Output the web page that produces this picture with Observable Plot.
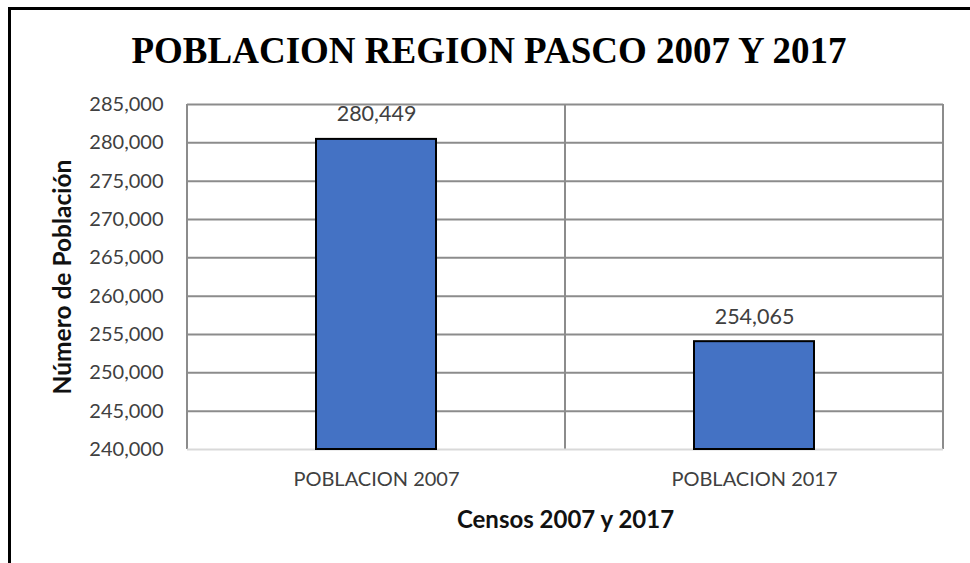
<!DOCTYPE html>
<html>
<head>
<meta charset="utf-8">
<script src="https://cdn.jsdelivr.net/npm/d3@7"></script>
<script src="https://cdn.jsdelivr.net/npm/@observablehq/plot@0.6"></script>
<style>
  html, body { margin: 0; padding: 0; background: #fff; }
  #wrap { position: relative; width: 970px; height: 563px; overflow: hidden; background: #fff; }
  #frame { position: absolute; left: 8px; top: 7px; width: 1000px; height: 620px; border: 3px solid #000; box-sizing: border-box; }
  #title { position: absolute; left: 0; top: 26px; width: 978px; text-align: center;
           font-family: "Liberation Serif", "Times New Roman", serif; font-weight: bold; font-size: 37px; color: #000; line-height: 50px; }
  #chart { position: absolute; left: 0; top: 80px; }
</style>
</head>
<body>
<div id="wrap">
  <div id="frame"></div>
  <div id="title">POBLACION REGION PASCO 2007 Y 2017</div>
  <div id="chart"></div>
</div>
<script>
const categories = ["POBLACION 2007", "POBLACION 2017"];
const values = [280449, 254065];
const yTicks = [240000, 245000, 250000, 255000, 260000, 265000, 270000, 275000, 280000, 285000];
const yMin = 240000;
const yMax = 285000;

const data = categories.map((c, i) => ({cat: c, value: values[i]}));
const fmt = d3.format(",");
const font = "Lato, 'Open Sans', sans-serif";

const plot = Plot.plot({
  width: 970,
  height: 483,
  marginTop: 24,
  marginBottom: 114,
  marginLeft: 187,
  marginRight: 27,
  style: {fontFamily: font, fontSize: "20px", color: "#404040", background: "transparent"},
  x: {domain: categories, paddingInner: 0.683, paddingOuter: 0.3415, label: null},
  y: {domain: [yMin, yMax], label: null},
  marks: [
    Plot.ruleY(yTicks.filter(t => t > yMin), {y: d => d, stroke: "#8c8c8c", strokeWidth: 2}),
    Plot.ruleY([yMin], {stroke: "#d9d9d9", strokeWidth: 2}),
    Plot.barY(data, {x: "cat", y1: yMin, y2: "value", fill: "#4472C4", stroke: "#000", strokeWidth: 2}),
    Plot.text(data, {x: "cat", y: "value", text: d => fmt(d.value), dy: -25, fontSize: 21.5, fill: "#404040"}),
    Plot.axisY({ticks: yTicks, tickFormat: fmt, tickSize: 0, tickPadding: 24, fontSize: 20, fill: "#404040",
      label: "Número de Población", labelAnchor: "center", labelOffset: 134, labelArrow: "none"}),
    Plot.axisX({tickSize: 0, tickPadding: 22, fontSize: 20, fill: "#404040",
      label: "Censos 2007 y 2017", labelAnchor: "center", labelOffset: 78, labelArrow: "none"})
  ]
});

// vertical band boundary lines, derived from the band scale
const xs = plot.scale("x");
const ys = plot.scale("y");
const gap = (xs.step - xs.bandwidth) / 2;
const bounds = xs.domain.map(d => xs.apply(d) - gap);
bounds.push(xs.apply(xs.domain[xs.domain.length - 1]) + xs.bandwidth + gap);
const svg = d3.select(plot);
const g = svg.insert("g", ":first-child");
g.selectAll("line").data(bounds).join("line")
  .attr("x1", d => d).attr("x2", d => d)
  .attr("y1", ys.apply(yMax)).attr("y2", ys.apply(yMin))
  .attr("stroke", "#8c8c8c").attr("stroke-width", 2);

// style axis labels
svg.selectAll("[aria-label='y-axis label'] text, [aria-label='x-axis label'] text")
  .attr("font-weight", "bold").attr("fill", "#111");
svg.selectAll("[aria-label='y-axis label'] text").attr("font-size", 24.5);
svg.selectAll("[aria-label='x-axis label'] text").attr("font-size", 24);

document.getElementById("chart").appendChild(plot);
</script>
</body>
</html>
